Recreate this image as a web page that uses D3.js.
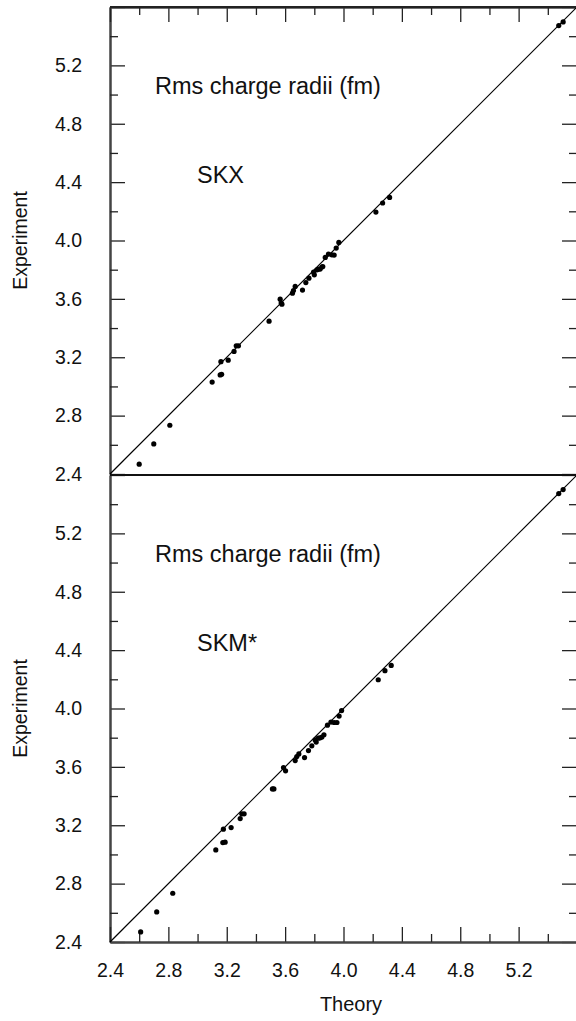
<!DOCTYPE html>
<html>
<head>
<meta charset="utf-8">
<script src="https://cdn.jsdelivr.net/npm/d3@7"></script>
<style>
  body { margin: 0; background: #fff; }
  text { font-family: "Liberation Sans", Arial, sans-serif; fill: #111; }
</style>
</head>
<body>
<div id="chart"></div>
<script>
// rms charge radii, theory vs experiment (fm)
var skxTheory = [2.60, 2.70, 2.81, 3.10, 3.155, 3.165, 3.16, 3.21, 3.25, 3.265, 3.28, 3.49,
    3.566, 3.573, 3.578, 3.65, 3.657, 3.669, 3.719, 3.742, 3.763, 3.795, 3.80, 3.818, 3.829,
    3.84, 3.852, 3.858, 3.875, 3.897, 3.92, 3.936, 3.95, 3.968, 4.222, 4.268, 4.316, 5.475, 5.505];
var skxExp = [2.467, 2.606, 2.734, 3.03, 3.079, 3.083, 3.170, 3.18, 3.24, 3.278, 3.278, 3.447,
    3.598, 3.571, 3.564, 3.639, 3.657, 3.685, 3.66, 3.712, 3.742, 3.783, 3.765, 3.799, 3.804,
    3.804, 3.818, 3.822, 3.884, 3.907, 3.902, 3.90, 3.948, 3.987, 4.195, 4.257, 4.295, 5.473, 5.498];

var skmTheory = [2.61, 2.72, 2.83, 3.125, 3.173, 3.189, 3.177, 3.23, 3.292, 3.303, 3.319, 3.513, 3.523,
    3.589, 3.603, 3.669, 3.68, 3.694, 3.733, 3.76, 3.783, 3.806, 3.813, 3.827, 3.84, 3.852,
    3.866, 3.89, 3.914, 3.936, 3.955, 3.97, 3.987, 4.238, 4.284, 4.327, 5.475, 5.505];
var skmExp = [2.469, 2.606, 2.734, 3.031, 3.081, 3.084, 3.173, 3.184, 3.246, 3.278, 3.278, 3.449, 3.449,
    3.595, 3.573, 3.643, 3.671, 3.689, 3.664, 3.712, 3.744, 3.785, 3.77, 3.797, 3.799, 3.804,
    3.82, 3.886, 3.907, 3.904, 3.904, 3.948, 3.986, 4.197, 4.259, 4.295, 5.473, 5.50];

var panels = [
    { name: "SKX", theory: skxTheory, exp: skxExp },
    { name: "SKM*", theory: skmTheory, exp: skmExp }
];

var majorTicks = [2.4, 2.8, 3.2, 3.6, 4.0, 4.4, 4.8, 5.2, 5.6];
var minorTicks = [2.6, 3.0, 3.4, 3.8, 4.2, 4.6, 5.0, 5.4];
var tickLabels = [2.4, 2.8, 3.2, 3.6, 4.0, 4.4, 4.8, 5.2];

var W = 576, H = 1021;
var LEFT = 110, RIGHT = 577;
var panelTop = [7, 475], panelH = 467;

var svg = d3.select("#chart").append("svg")
    .attr("width", W)
    .attr("height", H);

var x = d3.scaleLinear().domain([2.4, 5.6]).range([LEFT, RIGHT]);
var fmt = d3.format(".1f");

panels.forEach(function(p, i) {
    var top = panelTop[i];
    var y = d3.scaleLinear().domain([2.4, 5.6]).range([top + panelH, top]);
    var g = svg.append("g");

    // left axis, ticks inward
    g.append("g")
        .attr("transform", "translate(" + LEFT + ",0)")
        .call(d3.axisLeft(y).tickValues(majorTicks).tickSize(-15).tickSizeOuter(0).tickPadding(28)
            .tickFormat(function(d) { return tickLabels.indexOf(d) >= 0 ? fmt(d) : ""; }))
        .call(styleAxis);
    g.append("g")
        .attr("transform", "translate(" + LEFT + ",0)")
        .call(d3.axisLeft(y).tickValues(minorTicks).tickSize(-8).tickSizeOuter(0).tickFormat(""))
        .call(styleAxis);

    // right axis
    g.append("g")
        .attr("transform", "translate(" + RIGHT + ",0)")
        .call(d3.axisRight(y).tickValues(majorTicks).tickSize(-15).tickSizeOuter(0).tickFormat(""))
        .call(styleAxis);
    g.append("g")
        .attr("transform", "translate(" + RIGHT + ",0)")
        .call(d3.axisRight(y).tickValues(minorTicks).tickSize(-8).tickSizeOuter(0).tickFormat(""))
        .call(styleAxis);

    if (i == 0) {
        // top axis
        g.append("g")
            .attr("transform", "translate(0," + top + ")")
            .call(d3.axisTop(x).tickValues(majorTicks).tickSize(-15).tickSizeOuter(0).tickFormat(""))
            .call(styleAxis);
        g.append("g")
            .attr("transform", "translate(0," + top + ")")
            .call(d3.axisTop(x).tickValues(minorTicks).tickSize(-8).tickSizeOuter(0).tickFormat(""))
            .call(styleAxis);
    } else {
        // bottom axis with labels
        g.append("g")
            .attr("transform", "translate(0," + (top + panelH) + ")")
            .call(d3.axisBottom(x).tickValues(majorTicks).tickSize(-15).tickSizeOuter(0).tickPadding(21)
                .tickFormat(function(d) { return tickLabels.indexOf(d) >= 0 ? fmt(d) : ""; }))
            .call(styleAxis);
        g.append("g")
            .attr("transform", "translate(0," + (top + panelH) + ")")
            .call(d3.axisBottom(x).tickValues(minorTicks).tickSize(-8).tickSizeOuter(0).tickFormat(""))
            .call(styleAxis);
    }

    // diagonal
    g.append("line")
        .attr("x1", x(2.4)).attr("y1", y(2.4))
        .attr("x2", x(5.6)).attr("y2", y(5.6))
        .attr("stroke", "#000").attr("stroke-width", 1.2);

    // points
    g.selectAll("circle")
        .data(p.theory)
        .enter().append("circle")
        .attr("cx", function(d) { return x(d); })
        .attr("cy", function(d, j) { return y(p.exp[j]); })
        .attr("r", 2.6)
        .attr("fill", "#000");

    g.append("text")
        .attr("x", 155).attr("y", top + 87)
        .style("font-size", "23.5px")
        .text("Rms charge radii (fm)");
    g.append("text")
        .attr("x", 197).attr("y", top + 176)
        .style("font-size", "23.5px")
        .text(p.name);

    g.append("text")
        .attr("transform", "translate(27," + (top + panelH / 2) + ") rotate(-90)")
        .attr("text-anchor", "middle")
        .style("font-size", "19.5px")
        .text("Experiment");
});

// frame lines drawn on top
svg.append("line")
    .attr("x1", LEFT).attr("x2", RIGHT).attr("y1", panelTop[0]).attr("y2", panelTop[0])
    .attr("stroke", "#222").attr("stroke-width", 2);
svg.append("line")
    .attr("x1", LEFT).attr("x2", RIGHT).attr("y1", panelTop[1]).attr("y2", panelTop[1])
    .attr("stroke", "#111").attr("stroke-width", 2.2);

svg.append("text")
    .attr("x", 351).attr("y", 1011)
    .attr("text-anchor", "middle")
    .style("font-size", "20px")
    .text("Theory");

function styleAxis(sel) {
    sel.select(".domain").attr("stroke", "#444").attr("stroke-width", 2);
    sel.selectAll(".tick line").attr("stroke", "#222").attr("stroke-width", 1.3);
    sel.selectAll(".tick text").style("font-size", "19.5px").attr("fill", "#111")
        .style("font-family", "'Liberation Sans', Arial, sans-serif");
}
</script>
</body>
</html>
